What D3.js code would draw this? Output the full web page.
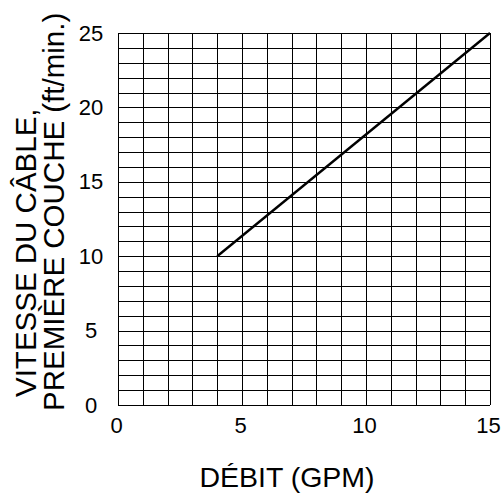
<!DOCTYPE html>
<html>
<head>
<meta charset="utf-8">
<script src="https://cdn.jsdelivr.net/npm/d3@7"></script>
<style>
  body { margin: 0; background: #fff; }
  text { font-family: "Liberation Sans", Arial, sans-serif; fill: #000; }
</style>
</head>
<body>
<div id="chart"></div>
<script>
// data
var flowGpm = [4, 15];
var cableSpeed = [10, 25];
var xTicks = [0, 5, 10, 15];
var yTicks = [0, 5, 10, 15, 20, 25];

var svgWidth = 501;
var svgHeight = 496;

var margin = { top: 33, right: 11, bottom: 91, left: 118 };
var width = svgWidth - margin.left - margin.right;
var height = svgHeight - margin.top - margin.bottom;

var svg = d3.select("#chart")
  .append("svg")
  .attr("width", svgWidth)
  .attr("height", svgHeight);

var chartGroup = svg.append("g")
  .attr("transform", `translate(${margin.left}, ${margin.top})`);

var xScale = d3.scaleLinear().domain([0, 15]).range([0, width]);
var yScale = d3.scaleLinear().domain([0, 25]).range([height, 0]);

// grid: one line per unit
chartGroup.selectAll(".vgrid")
  .data(d3.range(0, 16))
  .enter()
  .append("line")
  .attr("x1", d => Math.round(xScale(d)) + 0.5)
  .attr("x2", d => Math.round(xScale(d)) + 0.5)
  .attr("y1", 0)
  .attr("y2", height)
  .attr("stroke", "#000")
  .attr("stroke-width", 1);

chartGroup.selectAll(".hgrid")
  .data(d3.range(0, 26))
  .enter()
  .append("line")
  .attr("x1", 0)
  .attr("x2", width)
  .attr("y1", d => Math.round(yScale(d)) + 0.5)
  .attr("y2", d => Math.round(yScale(d)) + 0.5)
  .attr("stroke", "#000")
  .attr("stroke-width", 1);

// tick labels (no tick marks in the original)
var bottomAxis = d3.axisBottom(xScale).tickValues(xTicks).tickSize(0).tickPadding(12);
var leftAxis = d3.axisLeft(yScale).tickValues(yTicks).tickSize(0).tickPadding(0);

var xAxis = chartGroup.append("g")
  .attr("transform", `translate(-2, ${height})`)
  .call(bottomAxis);
var yAxis = chartGroup.append("g")
  .attr("transform", "translate(-27, 0)")
  .call(leftAxis);

[xAxis, yAxis].forEach(function(ax) {
  ax.select(".domain").remove();
  ax.selectAll("text")
    .style("font-family", "'Liberation Sans', Arial, sans-serif")
    .style("font-size", "22px")
    .attr("fill", "#000");
});
// y labels sit centred in their column
yAxis.attr("text-anchor", "middle");

// the curve
var line = d3.line()
  .x(d => xScale(d[0]))
  .y(d => yScale(d[1]));

chartGroup.append("path")
  .datum(d3.zip(flowGpm, cableSpeed))
  .attr("d", line)
  .attr("fill", "none")
  .attr("stroke", "#000")
  .attr("stroke-width", 2.4);

// axis titles
svg.append("text")
  .attr("x", 287)
  .attr("y", 487)
  .attr("text-anchor", "middle")
  .style("font-size", "28.5px")
  .text("DÉBIT (GPM)");

svg.append("text")
  .attr("transform", "translate(36, 397) rotate(-90)")
  .attr("text-anchor", "start")
  .style("font-size", "29.5px")
  .text("VITESSE DU CÂBLE,");

svg.append("text")
  .attr("transform", "translate(64, 411) rotate(-90)")
  .attr("text-anchor", "start")
  .style("font-size", "29.5px")
  .text("PREMIÈRE COUCHE (ft/min.)");
</script>
</body>
</html>
